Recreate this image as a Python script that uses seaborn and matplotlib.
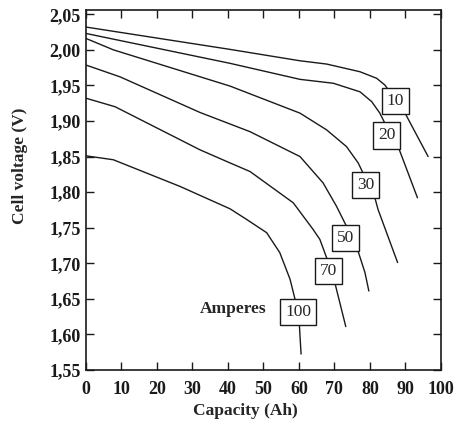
import matplotlib
matplotlib.use("Agg")
import matplotlib.pyplot as plt
import seaborn as sns
import pandas as pd

# ---- data ----
cap_10 = [0, 40.6, 60.3, 67.8, 77.2, 81.9, 84.2, 89.9, 96.4]
volt_10 = [2.032, 2.0006, 1.9846, 1.980, 1.9692, 1.960, 1.9506, 1.911, 1.850]

cap_20 = [0, 40.6, 60.3, 69.7, 77.2, 80.5, 82.8, 84.2, 88.0, 93.4]
volt_20 = [2.023, 1.981, 1.9585, 1.953, 1.941, 1.9272, 1.911, 1.897, 1.8633, 1.792]

cap_30 = [0, 7.7, 40.6, 60.3, 67.8, 73.4, 76.7, 81.4, 82.3, 87.8]
volt_30 = [2.016, 2.000, 1.949, 1.911, 1.8875, 1.864, 1.841, 1.792, 1.7755, 1.701]

cap_50 = [0, 9.6, 32.1, 46.2, 60.3, 66.8, 70.6, 73.4, 76.5, 78.6, 79.7]
volt_50 = [1.9786, 1.962, 1.912, 1.885, 1.850, 1.813, 1.780, 1.752, 1.7195, 1.687, 1.661]

cap_70 = [0, 8.2, 32.1, 40.6, 46.2, 58.4, 64.0, 65.9, 68.3, 70.1, 73.2]
volt_70 = [1.932, 1.920, 1.8595, 1.841, 1.829, 1.785, 1.7475, 1.7335, 1.701, 1.673, 1.611]

cap_100 = [0, 7.7, 26.5, 40.6, 45.3, 50.9, 54.6, 57.5, 58.9, 60.1, 60.3, 60.6]
volt_100 = [1.851, 1.8455, 1.808, 1.7765, 1.7615, 1.743, 1.715, 1.6775, 1.6494, 1.616, 1.598, 1.5724]

currents = ["10", "20", "30", "50", "70", "100"]
label_x = [87.2, 84.7, 78.8, 73.2, 68.3, 59.8]
label_y = [1.9284, 1.8796, 1.810, 1.735, 1.689, 1.632]

x_ticks = [0, 10, 20, 30, 40, 50, 60, 70, 80, 90, 100]
y_ticks = [1.55, 1.60, 1.65, 1.70, 1.75, 1.80, 1.85, 1.90, 1.95, 2.00, 2.05]
y_tick_labels = ["1,55", "1,60", "1,65", "1,70", "1,75", "1,80", "1,85", "1,90", "1,95", "2,00", "2,05"]

x_label = "Capacity (Ah)"
y_label = "Cell voltage (V)"
annotation = "Amperes"

# ---- build table ----
caps = [cap_10, cap_20, cap_30, cap_50, cap_70, cap_100]
volts = [volt_10, volt_20, volt_30, volt_50, volt_70, volt_100]
rows = []
for cur, cs, vs in zip(currents, caps, volts):
    for c, v in zip(cs, vs):
        rows.append({"capacity": c, "voltage": v, "current": cur})
df = pd.DataFrame(rows)

sns.set_style("ticks")
plt.rcParams["font.family"] = ["Liberation Serif", "DejaVu Serif"]

fig = plt.figure(figsize=(4.55, 4.23), dpi=100)
ax = fig.add_axes([0.189, 0.1253, 0.780, 0.8511])

sns.lineplot(data=df, x="capacity", y="voltage", hue="current",
             palette=["#1a1a1a"] * len(currents), legend=False,
             sort=False, estimator=None, linewidth=1.0, ax=ax)

for txt, lx, ly in zip(currents, label_x, label_y):
    ax.text(lx, ly, txt, ha="center", va="center", fontsize=12.5,
            bbox=dict(boxstyle="square,pad=0.29", fc="white", ec="#1a1a1a", lw=1.0),
            zorder=5)

ax.text(41.4, 1.6355, annotation, ha="center", va="center",
        fontsize=12.5, fontweight="bold")

ax.set_xlim(0, 100)
ax.set_ylim(1.55, 2.056)
ax.set_xticks(x_ticks)
ax.set_xticklabels([str(t) for t in x_ticks], fontsize=13, fontweight="bold")
ax.set_yticks(y_ticks)
ax.set_yticklabels(y_tick_labels, fontsize=13, fontweight="bold")
ax.tick_params(direction="in", length=6, width=1.0, top=True, right=True,
               colors="#1a1a1a")
ax.tick_params(axis="x", pad=8)
ax.tick_params(axis="y", pad=4)
ax.set_xlabel(x_label, fontsize=12.5, fontweight="bold")
ax.set_ylabel(y_label, fontsize=12.5, fontweight="bold")
ax.xaxis.set_label_coords(0.45, -0.092)
ax.yaxis.set_label_coords(-0.163, 0.567)
for s in ax.spines.values():
    s.set_linewidth(1.2)
    s.set_color("#1a1a1a")

fig.savefig("out.png", dpi=100)
